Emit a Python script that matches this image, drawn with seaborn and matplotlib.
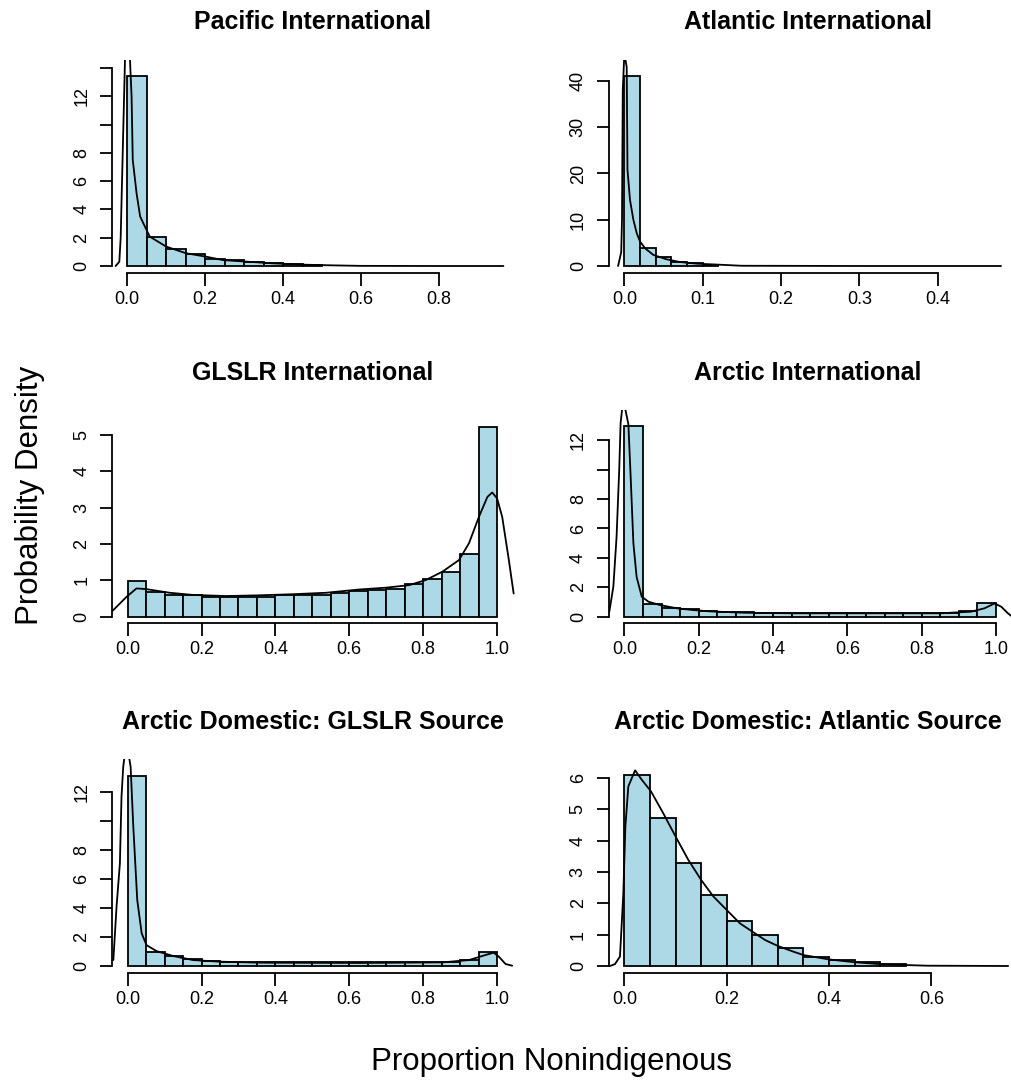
import numpy as np
import pandas as pd
import matplotlib
matplotlib.use("Agg")
import matplotlib.pyplot as plt
import seaborn as sns

# ---- data ----
titles = ["Pacific International", "Atlantic International",
          "GLSLR International", "Arctic International",
          "Arctic Domestic: GLSLR Source", "Arctic Domestic: Atlantic Source"]

# histogram bar heights (density) and bin widths
pac_bw = 0.05
pac_h = [13.45, 2.03, 1.20, 0.82, 0.52, 0.40, 0.28, 0.22, 0.12, 0.06]
atl_bw = 0.02
atl_h = [41.15, 3.8, 1.9, 0.94, 0.55, 0.32]
gls_bw = 0.05
gls_h = [0.99, 0.69, 0.60, 0.60, 0.55, 0.55, 0.55, 0.55, 0.60, 0.60,
         0.60, 0.66, 0.71, 0.73, 0.76, 0.90, 1.03, 1.23, 1.73, 5.22]
arc_bw = 0.05
arc_h = [12.97, 0.84, 0.61, 0.52, 0.41, 0.35, 0.30, 0.27, 0.24, 0.24,
         0.24, 0.24, 0.24, 0.24, 0.24, 0.24, 0.24, 0.24, 0.39, 0.95]
ags_bw = 0.05
ags_h = [13.1, 0.94, 0.69, 0.46, 0.37, 0.25, 0.25, 0.25, 0.25, 0.25,
         0.25, 0.25, 0.25, 0.25, 0.25, 0.25, 0.25, 0.25, 0.41, 0.96]
aas_bw = 0.05
aas_h = [6.09, 4.74, 3.28, 2.26, 1.45, 0.99, 0.59, 0.30, 0.19, 0.12, 0.06]

# density curves (x, y)
pac_kx = [-0.03, -0.0205, -0.017, -0.0145, -0.01, -0.006, 0.0, 0.007, 0.011, 0.014,
          0.024, 0.033, 0.045, 0.058, 0.10, 0.151, 0.202, 0.245, 0.305, 0.373,
          0.458, 0.518, 0.60, 0.80, 0.966]
pac_ky = [0.0, 0.3, 2.0, 4.9, 10.0, 14.5, 20.0, 14.5, 12.0, 7.5,
          5.1, 3.5, 2.8, 2.07, 1.37, 0.9, 0.66, 0.42, 0.31, 0.19,
          0.09, 0.05, 0.01, 0.0, 0.0]
atl_kx = [-0.008, -0.004, -0.003, -0.002, 0.0, 0.003, 0.004, 0.0072, 0.0115, 0.0158,
          0.02, 0.0266, 0.037, 0.054, 0.071, 0.093, 0.12, 0.15, 0.30, 0.481]
atl_ky = [0.0, 3.0, 10.0, 38.0, 46.0, 43.0, 20.8, 14.3, 10.0, 7.1,
          5.3, 3.8, 2.4, 1.44, 0.86, 0.5, 0.29, 0.05, 0.0, 0.0]
gls_kx = [-0.0432, -0.0028, 0.024, 0.051, 0.114, 0.177, 0.267, 0.357, 0.447, 0.537,
          0.627, 0.699, 0.762, 0.807, 0.852, 0.897, 0.924, 0.951, 0.974, 0.987,
          1.0, 1.014, 1.032, 1.045]
gls_ky = [0.14, 0.55, 0.78, 0.76, 0.66, 0.60, 0.57, 0.59, 0.62, 0.66,
          0.75, 0.80, 0.87, 1.01, 1.24, 1.56, 2.02, 2.75, 3.30, 3.42,
          3.26, 2.75, 1.56, 0.64]
arc_kx = [-0.0404, -0.0296, -0.021, -0.0138, -0.010, -0.003, 0.0108, 0.017, 0.0243, 0.033,
          0.0468, 0.0648, 0.096, 0.141, 0.186, 0.231, 0.321, 0.456, 0.85, 0.879,
          0.933, 0.969, 0.996, 1.014, 1.032, 1.041]
arc_ky = [0.34, 2.04, 5.4, 10.0, 13.2, 14.8, 13.1, 9.5, 5.0, 2.7,
          1.36, 1.02, 0.79, 0.57, 0.45, 0.36, 0.27, 0.23, 0.23, 0.27,
          0.34, 0.57, 0.9, 0.68, 0.23, 0.05]
ags_kx = [-0.0387, -0.03, -0.021, -0.0166, -0.012, -0.003, 0.0081, 0.0153, 0.026, 0.038,
          0.051, 0.078, 0.123, 0.177, 0.249, 0.357, 0.627, 0.852, 0.924, 0.969,
          0.991, 1.005, 1.023, 1.041]
ags_ky = [0.41, 4.1, 7.06, 11.65, 13.7, 15.5, 13.7, 9.6, 4.54, 2.25,
          1.44, 1.03, 0.69, 0.41, 0.30, 0.23, 0.21, 0.25, 0.41, 0.76,
          0.92, 0.64, 0.14, 0.02]
aas_kx = [-0.028, -0.0184, -0.0086, -0.0054, -0.002, 0.0, 0.002, 0.0078, 0.021, 0.034,
          0.052, 0.076, 0.10, 0.125, 0.15, 0.174, 0.20, 0.226, 0.25, 0.275,
          0.30, 0.33, 0.35, 0.40, 0.45, 0.50, 0.55, 0.592, 0.75]
aas_ky = [0.0, 0.06, 0.3, 1.26, 2.32, 3.39, 4.46, 5.74, 6.25, 5.95,
          5.58, 4.88, 4.14, 3.39, 2.75, 2.22, 1.79, 1.36, 1.10, 0.83,
          0.64, 0.46, 0.35, 0.21, 0.12, 0.06, 0.03, 0.01, 0.0]

# axis ticks and which tick labels R kept
y_ticks = [list(range(0, 15, 2)), [0, 10, 20, 30, 40], [0, 1, 2, 3, 4, 5],
           list(range(0, 13, 2)), list(range(0, 13, 2)), [0, 1, 2, 3, 4, 5, 6]]
y_labels = [["0", "2", "4", "6", "8", "", "12", ""],
            ["0", "10", "20", "30", "40"],
            ["0", "1", "2", "3", "4", "5"],
            ["0", "2", "4", "6", "8", "", "12"],
            ["0", "2", "4", "6", "8", "", "12"],
            ["0", "1", "2", "3", "4", "5", "6"]]
x_ticks = [[0.0, 0.2, 0.4, 0.6, 0.8], [0.0, 0.1, 0.2, 0.3, 0.4],
           [0.0, 0.2, 0.4, 0.6, 0.8, 1.0], [0.0, 0.2, 0.4, 0.6, 0.8, 1.0],
           [0.0, 0.2, 0.4, 0.6, 0.8, 1.0], [0.0, 0.2, 0.4, 0.6]]

panels = [(pac_bw, pac_h, pac_kx, pac_ky), (atl_bw, atl_h, atl_kx, atl_ky),
          (gls_bw, gls_h, gls_kx, gls_ky), (arc_bw, arc_h, arc_kx, arc_ky),
          (ags_bw, ags_h, ags_kx, ags_ky), (aas_bw, aas_h, aas_kx, aas_ky)]

# plot limits per panel (R pads the region a bit around the data)
xlims = [(-0.038, 0.997), (-0.0196, 0.495), (-0.041, 1.05),
         (-0.0413, 1.043), (-0.041, 1.05), (-0.030, 0.7575)]
ylims = [(-0.516, 14.56), (-1.58, 44.54), (-0.18, 5.69),
         (-0.45, 14.06), (-0.46, 14.22), (-0.214, 6.60)]

sns.set_theme(style="white")
plt.rcParams["font.family"] = ["Liberation Sans", "DejaVu Sans"]
plt.rcParams["text.color"] = "black"

W, H = 1012, 1080
fig = plt.figure(figsize=(W / 100, H / 100), dpi=100)

col_left = [112.5, 609]
row_top = [60, 410, 759.4]
pw, ph = 403, 213.3
title_pos = [(313, 22), (808, 22), (313, 373), (808, 373), (313, 722), (808, 722)]
LW = 1.3

for i, (bw, h, kx, ky) in enumerate(panels):
    r, c = divmod(i, 2)
    ax = fig.add_axes([col_left[c] / W, 1 - (row_top[r] + ph) / H, pw / W, ph / H])
    edges = [round(k * bw, 4) for k in range(len(h) + 1)]
    bars = pd.DataFrame({"mid": [e + bw / 2 for e in edges[:-1]], "dens": h})
    sns.histplot(data=bars, x="mid", weights="dens", bins=edges, stat="count",
                 color="#ADD8E6", edgecolor="black", linewidth=LW, alpha=1,
                 ax=ax)
    curve = pd.DataFrame({"x": kx, "y": ky})
    sns.lineplot(data=curve, x="x", y="y", color="black", linewidth=LW,
                 sort=False, estimator=None, ax=ax)
    ax.set_xlim(*xlims[i])
    ax.set_ylim(*ylims[i])
    ax.set_xlabel("")
    ax.set_ylabel("")
    ax.set_yticks(y_ticks[i])
    ax.set_yticklabels(y_labels[i])
    ax.set_xticks(x_ticks[i])
    ax.set_xticklabels(["%.1f" % t for t in x_ticks[i]])
    for side in ["top", "right"]:
        ax.spines[side].set_visible(False)
    for side in ["left", "bottom"]:
        ax.spines[side].set_color("black")
        ax.spines[side].set_linewidth(LW)
    ax.spines["left"].set_bounds(y_ticks[i][0], y_ticks[i][-1])
    ax.spines["bottom"].set_bounds(x_ticks[i][0], x_ticks[i][-1])
    ax.tick_params(axis="both", direction="out", length=9, width=LW,
                   color="black", labelcolor="black", labelsize=13,
                   left=True, bottom=True)
    ax.tick_params(axis="y", labelrotation=90, pad=7)
    ax.tick_params(axis="x", pad=4)
    for lab in ax.get_yticklabels():
        lab.set_va("center")
    ax.grid(False)
    tx, ty = title_pos[i]
    fig.text(tx / W, 1 - ty / H, titles[i], ha="center", va="center",
             fontsize=18, fontweight="bold", color="black")

fig.text(30 / W, 1 - 495 / H, "Probability Density", rotation=90,
         ha="center", va="center", fontsize=22.5, color="black")
fig.text(552 / W, 1 - 1062 / H, "Proportion Nonindigenous",
         ha="center", va="center", fontsize=22.5, color="black")

plt.savefig("out.png", dpi=100)
